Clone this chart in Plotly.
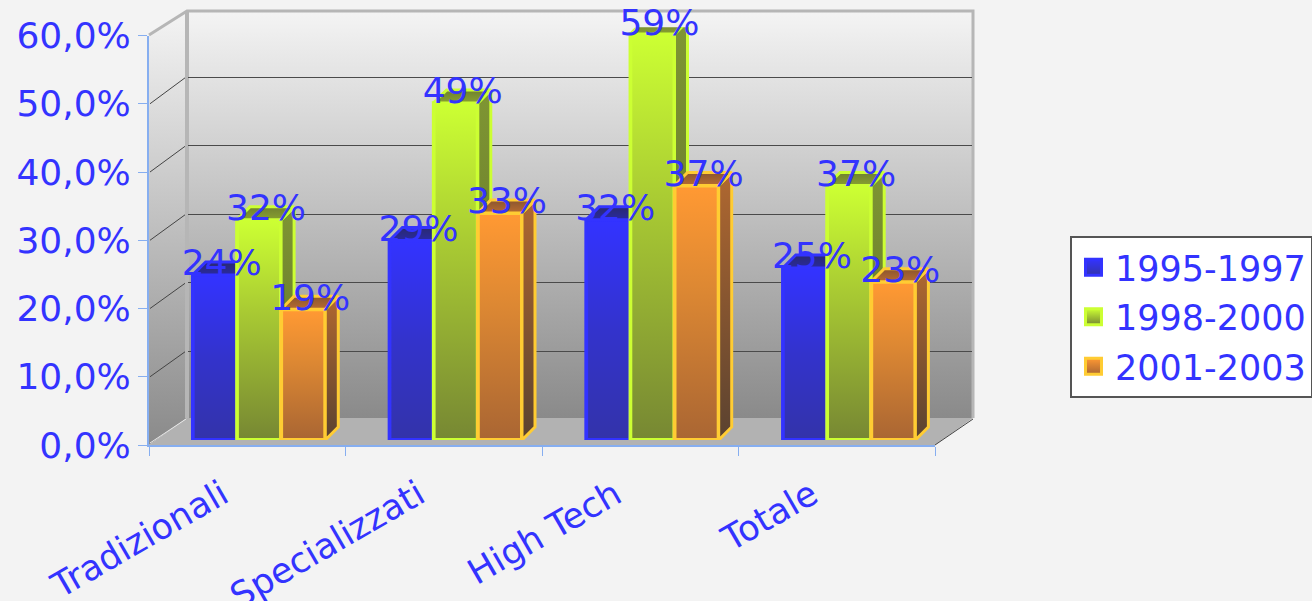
import plotly.graph_objects as go

CATEGORIES = ["Tradizionali", "Specializzati", "High Tech", "Totale"]
SERIES = ["1995-1997", "1998-2000", "2001-2003"]
V1 = [24, 29, 32, 25]
V2 = [32, 49, 59, 37]
V3 = [19, 33, 37, 23]
VALUES = [V1, V2, V3]
LABELS = [["24%", "29%", "32%", "25%"], ["32%", "49%", "59%", "37%"], ["19%", "33%", "37%", "23%"]]
YTICKS = [0, 10, 20, 30, 40, 50, 60]
YTICKTEXT = ["0,0%", "10,0%", "20,0%", "30,0%", "40,0%", "50,0%", "60,0%"]
GRID = [10, 20, 30, 40, 50]

W, H = 1312, 601
BLUE = "#3333ff"
FONT = "DejaVu Sans"
LINE = ["#3333ff", "#ccff33", "#ffcc33"]
FRONT = [
    [[0, "#3333aa"], [0.5, "#3333cc"], [1, "#3333ff"]],
    [[0, "#778833"], [0.6, "#aacc33"], [1, "#ccff33"]],
    [[0, "#aa6633"], [0.6, "#dd8833"], [1, "#ff9933"]],
]
SIDE = [
    [[0, "#222266"], [1, "#2a2a99"]],
    [[0, "#5c6b28"], [1, "#7f9633"]],
    [[0, "#5a4230"], [1, "#b06830"]],
]
TOP = [
    [[0, "#2a2aa0"], [1, "#2a2a70"]],
    [[0, "#88a030"], [1, "#6f8030"]],
    [[0, "#b86c30"], [1, "#8a5530"]],
]
WALL = [[0, "#8a8a8a"], [1, "#f4f4f4"]]

def dx(a, b): return [a / W, b / W]
def dy(top, bottom): return [1 - bottom / H, 1 - top / H]

fig = go.Figure()
hidden = dict(visible=False, fixedrange=True)

# --- room (pixel frame) ---
fig.update_layout(
    xaxis=dict(domain=[0, 1], range=[0, W], **hidden),
    yaxis=dict(domain=[0, 1], range=[H, 0], **hidden),
)
def poly(xs, ys, **kw):
    return go.Scatter(x=xs, y=ys, mode="lines", showlegend=False, hoverinfo="skip", **kw)

fig.add_trace(poly([149, 187, 187, 149, 149], [35, 11, 418, 445, 35], fill="toself",
                   line=dict(width=0), fillgradient=dict(type="vertical", colorscale=WALL)))
fig.add_trace(poly([187, 973, 973, 187, 187], [11, 11, 418, 418, 11], fill="toself",
                   line=dict(width=0), fillgradient=dict(type="vertical", colorscale=WALL)))
fig.add_trace(poly([149, 187, 973, 935, 149], [445, 418, 418, 445, 445], fill="toself",
                   line=dict(width=0), fillcolor="#b2b2b2"))
for g in GRID:
    fig.add_trace(poly([150, 186], [445 - 6.825 * g, 419.6 - 6.85 * g], line=dict(color="#444444", width=1)))
fig.add_trace(poly([149, 187, 187, 973, 973], [35, 11, 11, 11, 418], line=dict(color="#b6b6b6", width=3)))
fig.add_trace(poly([187, 187], [11, 418], line=dict(color="#b6b6b6", width=4)))
fig.add_trace(poly([150, 186], [443, 419], line=dict(color="#e8e8e8", width=1)))
fig.add_trace(poly([935, 973], [445, 419], line=dict(color="#444444", width=1)))

# --- back wall grid ---
fig.update_layout(
    xaxis2=dict(domain=dx(188, 972), range=[0, 1], anchor="y2", visible=False, fixedrange=True),
    yaxis2=dict(domain=dy(8.6, 419.6), range=[0, 60], anchor="x2", fixedrange=True,
                tickvals=GRID, showgrid=True, gridcolor="#4a4a4a", gridwidth=1.2,
                showticklabels=False, ticks="", showline=False, zeroline=False),
)
fig.add_trace(go.Scatter(x=[0, 1], y=[0, 0], xaxis="x2", yaxis="y2", mode="lines",
                         line=dict(width=0), showlegend=False, hoverinfo="skip"))

# --- visible axes ---
AXC = "#86aef0"
fig.update_layout(
    xaxis3=dict(domain=dx(149, 935), anchor="y3", type="category", categoryorder="array",
                categoryarray=CATEGORIES, range=[-0.5, 3.5], tickson="boundaries", ticks="outside",
                ticklen=9, tickcolor=AXC, tickwidth=1, showline=True, linecolor=AXC, linewidth=1.5,
                showgrid=False, zeroline=False, tickangle=-30, fixedrange=True,
                ticklabelshift=-25, ticklabelstandoff=14,
                tickfont=dict(family=FONT, size=35, color=BLUE)),
    yaxis3=dict(domain=dy(35.5, 445), anchor="x3", range=[0, 60], tickvals=YTICKS, ticktext=YTICKTEXT,
                ticks="outside", ticklen=9, tickcolor=AXC, tickwidth=1, showline=True, linecolor=AXC,
                linewidth=2, showgrid=False, zeroline=False, fixedrange=True,
                tickfont=dict(family=FONT, size=36, color=BLUE)),
)
fig.add_trace(go.Scatter(x=CATEGORIES, y=[0, 0, 0, 0], xaxis="x3", yaxis="y3", mode="lines",
                         line=dict(width=0), showlegend=False, hoverinfo="skip"))

# --- bars: one overlapping subplot per series so that painter's order is kept ---
CAT_W_PX = 196.7
VAL_PX = 6.88
BAR_PX = 44.2
DEPTH_PX = 13
X_LEFT = 259 - CAT_W_PX / 2
Y_ZERO = 440
LABEL_DROP = 9.5
bar_w = BAR_PX / CAT_W_PX
ddx = DEPTH_PX / CAT_W_PX
ddy = DEPTH_PX / VAL_PX
POS = list(range(len(CATEGORIES)))
inx = 2 / CAT_W_PX
iny = 2 / VAL_PX
VRANGE = [0, 60]
bar_dom_x = dx(X_LEFT, X_LEFT + 4 * CAT_W_PX)
bar_dom_y = dy(Y_ZERO - 60 * VAL_PX, Y_ZERO)

for s, vals in enumerate(VALUES):
    n = 4 + s
    xa, ya = f"x{n}", f"y{n}"
    fig.update_layout({
        f"xaxis{n}": dict(domain=bar_dom_x, range=[-0.5, 3.5], anchor=ya, **hidden),
        f"yaxis{n}": dict(domain=bar_dom_y, range=VRANGE, anchor=xa, **hidden),
    })
    off = (s - 1.5) * bar_w
    fig.add_trace(go.Bar(x=POS, y=vals, width=bar_w, offset=off, xaxis=xa, yaxis=ya, name=SERIES[s],
                         showlegend=False, marker=dict(color=LINE[s], line=dict(color=LINE[s], width=3.5)),
                         hoverinfo="skip"))
    for p, v in zip(POS, vals):
        l, r = p + off, p + off + bar_w
        fig.add_trace(poly([r, r + ddx, r + ddx, r, r], [0, ddy, v + ddy, v, 0], xaxis=xa, yaxis=ya,
                           fill="toself", line=dict(color=LINE[s], width=3),
                           fillgradient=dict(type="vertical", colorscale=SIDE[s])))
        fig.add_trace(poly([l, l + ddx, r + ddx, r, l], [v, v + ddy, v + ddy, v, v], xaxis=xa, yaxis=ya,
                           fill="toself", line=dict(color=LINE[s], width=3),
                           fillgradient=dict(type="vertical", colorscale=TOP[s])))
        fig.add_trace(poly([l + inx, r - inx, r - inx, l + inx, l + inx],
                           [iny, iny, v - iny, v - iny, iny], xaxis=xa, yaxis=ya,
                           fill="toself", line=dict(width=0),
                           fillgradient=dict(type="vertical", colorscale=FRONT[s])))

# --- data labels ---
fig.update_layout(
    xaxis7=dict(domain=bar_dom_x, range=[-0.5, 3.5], anchor="y7", **hidden),
    yaxis7=dict(domain=dy(Y_ZERO + LABEL_DROP - 60 * VAL_PX, Y_ZERO + LABEL_DROP), range=VRANGE, anchor="x7", **hidden),
)
for s, vals in enumerate(VALUES):
    off = (s - 1) * bar_w + 7 / CAT_W_PX
    fig.add_trace(go.Scatter(x=[p + off for p in POS], y=vals, xaxis="x7", yaxis="y7", mode="text",
                             text=LABELS[s], textposition="top center", cliponaxis=False,
                             textfont=dict(family=FONT, size=36, color=BLUE),
                             showlegend=False, hoverinfo="skip"))

# --- legend entries ---
for s, name in enumerate(SERIES):
    fig.add_trace(go.Scatter(x=[None], y=[None], xaxis="x7", yaxis="y7", mode="markers", name=name,
                             legendgroup=name, hoverinfo="skip",
                             marker=dict(symbol="square", size=16, color=FRONT[s][2][1],
                                         gradient=dict(type="vertical", color=FRONT[s][0][1]),
                                         line=dict(color=LINE[s], width=3))))

fig.update_layout(
    width=W, height=H, margin=dict(l=0, r=0, t=0, b=0, autoexpand=False),
    paper_bgcolor="#f3f3f3", plot_bgcolor="rgba(0,0,0,0)",
    font=dict(family=FONT, color=BLUE, size=35),
    barmode="overlay",
    hovermode=False,
    legend=dict(x=1070 / W, y=1 - 236 / H, xanchor="left", yanchor="top", bgcolor="#ffffff",
                bordercolor="#555555", borderwidth=2, tracegroupgap=1, itemwidth=33,
                font=dict(family=FONT, size=35, color=BLUE)),
)
fig.write_html("out.html", post_script="document.body.style.margin='0';", config=dict(displayModeBar=False))
